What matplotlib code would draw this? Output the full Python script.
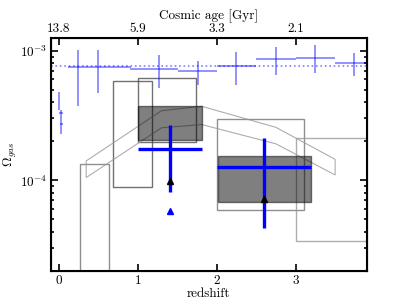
import matplotlib
matplotlib.use("Agg")
import matplotlib.pyplot as plt
import numpy as np
from matplotlib.patches import Rectangle, Polygon

plt.rcParams['font.family'] = 'serif'
plt.rcParams['font.serif'] = ['cmr10', 'DejaVu Serif']
plt.rcParams['mathtext.fontset'] = 'cm'
plt.rcParams['axes.formatter.use_mathtext'] = True
plt.rcParams['font.size'] = 9.5

# literature points (light blue)
lit_z = [0.24, 0.50, 1.27, 1.76, 2.25, 2.75, 3.25, 3.74]
lit_zlo = [0.11, 0.40, 0.90, 1.51, 2.00, 2.50, 3.00, 3.50]
lit_zhi = [0.40, 0.91, 1.51, 2.00, 2.50, 3.00, 3.50, 4.00]
lit_om = [7.41e-4, 7.46e-4, 7.24e-4, 6.90e-4, 7.54e-4, 8.64e-4, 8.84e-4, 8.00e-4]
lit_top = [1.01e-3, 1.01e-3, 9.27e-4, 8.34e-4, 9.77e-4, 1.073e-3, 1.106e-3, 9.60e-4]
lit_bot = [3.76e-4, 4.71e-4, 5.13e-4, 5.39e-4, 5.39e-4, 6.51e-4, 6.74e-4, 6.32e-4]

# local points near z=0
loc_z = [0.00, 0.03, 0.03]
loc_om = [4.07e-4, 3.31e-4, 2.72e-4]
loc_top = [4.80e-4, 3.47e-4, 2.72e-4]
loc_bot = [3.47e-4, 2.26e-4, 2.72e-4]
loc_dz = [0.0, 0.025, 0.02]

mean_om = 7.6e-4

# open boxes: z0, z1, lo, hi
box_z0 = [0.27, 0.69, 1.00, 2.00, 3.00]
box_z1 = [0.63, 1.18, 1.74, 3.10, 4.20]
box_lo = [1e-5, 8.95e-5, 1.98e-4, 5.91e-5, 3.42e-5]
box_hi = [1.33e-4, 5.78e-4, 6.13e-4, 2.98e-4, 2.13e-4]
box_col = ['0.45', '0.3', '0.3', '0.45', '0.6']

# filled boxes
fb_z0 = [1.00, 2.01]
fb_z1 = [1.81, 3.19]
fb_lo = [2.03e-4, 6.75e-5]
fb_hi = [3.77e-4, 1.54e-4]

# model band
band_z = [0.346, 1.30, 1.81, 2.75, 3.50]
band_hi = [1.41e-4, 3.44e-4, 3.72e-4, 2.56e-4, 1.45e-4]
band_lo = [1.05e-4, 2.54e-4, 2.69e-4, 1.91e-4, 1.10e-4]

# this work
tw_z = [1.41, 2.60]
tw_zlo = [1.00, 2.00]
tw_zhi = [1.81, 3.19]
tw_om = [1.75e-4, 1.27e-4]
tw_top = [2.69e-4, 2.13e-4]
tw_bot = [8.18e-5, 4.28e-5]
lim_black_z = [1.41, 2.60]
lim_black = [9.9e-5, 7.15e-5]
lim_blue_z = [1.41]
lim_blue = [5.8e-5]

age_ticks = [0, 1, 2, 3]
age_labels = ['13.8', '5.9', '3.3', '2.1']

fig = plt.figure(figsize=(4.07, 3.05), dpi=100)
ax = fig.add_axes([0.1253, 0.1115, 0.7757, 0.7639])
ax.set_yscale('log')

for z0, z1, lo, hi, c in zip(box_z0, box_z1, box_lo, box_hi, box_col):
    ax.add_patch(Rectangle((z0, lo), z1 - z0, hi - lo, fill=False,
                           edgecolor=c, lw=1.0, alpha=0.8, zorder=2))

poly = list(zip(band_z, band_hi)) + list(zip(band_z[::-1], band_lo[::-1]))
ax.add_patch(Polygon(poly, closed=True, fill=False, edgecolor='0.6',
                     lw=0.8, alpha=0.8, zorder=2))

for z0, z1, lo, hi in zip(fb_z0, fb_z1, fb_lo, fb_hi):
    ax.add_patch(Rectangle((z0, lo), z1 - z0, hi - lo, facecolor='k',
                           edgecolor='k', alpha=0.5, lw=1.0, zorder=3))

ax.axhline(mean_om, color='blue', ls=':', lw=1.2, alpha=0.5, zorder=2)

lit_z = np.array(lit_z)
lit_om = np.array(lit_om)
ax.errorbar(lit_z, lit_om,
            xerr=[lit_z - np.array(lit_zlo), np.array(lit_zhi) - lit_z],
            yerr=[lit_om - np.array(lit_bot), np.array(lit_top) - lit_om],
            fmt='none', ecolor='blue', elinewidth=1.2, alpha=0.5, zorder=2)
loc_om = np.array(loc_om)
ax.errorbar(loc_z, loc_om, xerr=loc_dz,
            yerr=[loc_om - np.array(loc_bot), np.array(loc_top) - loc_om],
            fmt='none', ecolor='blue', elinewidth=1.2, alpha=0.5, zorder=2)

tw_z = np.array(tw_z)
tw_om = np.array(tw_om)
ax.errorbar(tw_z, tw_om,
            xerr=[tw_z - np.array(tw_zlo), np.array(tw_zhi) - tw_z],
            yerr=[tw_om - np.array(tw_bot), np.array(tw_top) - tw_om],
            fmt='none', ecolor='blue', elinewidth=2.4, zorder=4)
ax.plot(lim_black_z, lim_black, '^', color='k', ms=5, zorder=5)
ax.plot(lim_blue_z, lim_blue, '^', color='blue', ms=5, zorder=5)

ax.set_xlim(-0.1, 3.9)
ax.set_ylim(2.0e-5, 1.25e-3)
ax.set_xticks(age_ticks)
ax.set_xlabel('redshift', labelpad=0)
ax.set_ylabel(r'$\Omega_{gas}$', labelpad=1)
ax.tick_params(which='both', direction='in', right=True, width=1.2)
ax.tick_params(which='major', length=5)
ax.tick_params(which='minor', length=2.5)
ax.tick_params(axis='x', pad=2.5)
ax.tick_params(axis='y', pad=2.5)
for s in ax.spines.values():
    s.set_linewidth(1.5)

ax2 = ax.twiny()
ax2.set_xlim(ax.get_xlim())
ax2.set_xticks(age_ticks)
ax2.set_xticklabels(age_labels)
ax2.set_xlabel('Cosmic age [Gyr]', labelpad=2)
ax2.tick_params(direction='in', width=1.2, length=5, pad=2.5)

fig.savefig('out.png', dpi=100)
